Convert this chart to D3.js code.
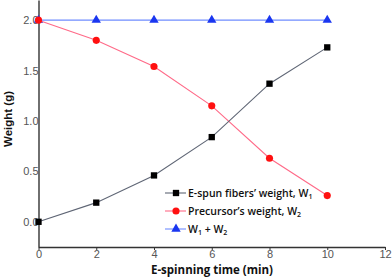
<!DOCTYPE html>
<html>
<head>
<meta charset="utf-8">
<script src="https://cdn.jsdelivr.net/npm/d3@7"></script>
<style>
  body { margin: 0; background: #fff; }
</style>
</head>
<body>
<div id="chart"></div>
<script>
const times = [0, 2, 4, 6, 8, 10]
const fiberWeight = [0.0, 0.19, 0.46, 0.84, 1.37, 1.73]
const precursorWeight = [2.0, 1.80, 1.54, 1.15, 0.63, 0.26]
const totalWeight = [2.0, 2.0, 2.0, 2.0, 2.0, 2.0]
const xTicks = [0, 2, 4, 6, 8, 10, 12]
const yTicks = [0.0, 0.5, 1.0, 1.5, 2.0]

const width = 392, height = 279
const padding = { top: 0, left: 38.5, right: 7, bottom: 32 }

const xScale = d3.scaleLinear().domain([0, 12]).range([padding.left, width - padding.right])
const yScale = d3.scaleLinear().domain([-0.25, 2.2]).range([height - padding.bottom, padding.top])

const svg = d3.select('#chart').append('svg')
              .attr('width', width)
              .attr('height', height)

// x axis
const xAxis = svg.append('g')
                 .attr('transform', `translate(0, ${yScale(-0.25)})`)
                 .call(d3.axisBottom(xScale).tickValues(xTicks).tickSize(3).tickSizeOuter(0).tickFormat(d3.format('d')))
xAxis.select('.domain').attr('stroke', '#333').attr('stroke-width', 1.4)
xAxis.selectAll('.tick line').attr('stroke', '#333')
xAxis.selectAll('.tick text')
     .attr('y', 3).attr('dy', '0.71em')
     .style('font-family', 'Liberation Sans, Arial, sans-serif')
     .style('font-size', '11px')
     .style('fill', '#555')

// y axis
const yAxis = svg.append('g')
                 .attr('transform', `translate(${padding.left}, 0)`)
                 .call(d3.axisLeft(yScale).tickValues(yTicks).tickSize(0).tickSizeOuter(0).tickFormat(d3.format('.1f')))
yAxis.select('.domain').attr('stroke', '#333').attr('stroke-width', 1.4)
yAxis.selectAll('.tick text')
     .attr('x', 0)
     .style('font-family', 'Liberation Sans, Arial, sans-serif')
     .style('font-size', '11px')
     .style('fill', '#555')

// axis titles
svg.append('text')
   .text('E-spinning time (min)')
   .attr('text-anchor', 'middle')
   .attr('x', 212)
   .attr('y', 274)
   .style('font-family', 'Open Sans, sans-serif')
   .style('font-size', '11.5px')
   .style('font-weight', '700')
   .style('fill', '#111')

svg.append('text')
   .text('Weight (g)')
   .attr('text-anchor', 'middle')
   .attr('transform', `translate(12, 119) rotate(-90)`)
   .style('font-family', 'Liberation Sans, Arial, sans-serif')
   .style('font-size', '11.5px')
   .style('font-weight', '700')
   .style('fill', '#111')

const series = [
    { values: fiberWeight, line: '#5f6675', fill: '#000', shape: d3.symbolSquare, size: 40 },
    { values: precursorWeight, line: '#ff6a88', fill: '#ff1010', shape: d3.symbolCircle, size: 40 },
    { values: totalWeight, line: '#6f8cff', fill: '#1a36f0', shape: d3.symbolTriangle, size: 38 }
]

const line = d3.line()
               .x((d, i) => xScale(times[i]))
               .y(d => yScale(d))

// draw in reverse so the black series sits on top
series.slice().reverse().forEach(s => {
    svg.append('path')
       .datum(s.values)
       .attr('d', line)
       .style('fill', 'none')
       .style('stroke', s.line)
       .style('stroke-width', 1.1)

    svg.append('g').selectAll('path')
       .data(s.values)
       .join('path')
       .attr('transform', (d, i) => `translate(${xScale(times[i])}, ${yScale(d)})`)
       .attr('d', d3.symbol().type(s.shape).size(s.size))
       .style('fill', s.fill)
})

// legend: even parts are normal text, odd parts are subscripts
const legendLabels = [
    ['E-spun fibers\u2019 weight, W', '1'],
    ['Precursor\u2019s weight, W', '2'],
    ['W', '1', ' + W', '2']
]
const legendY = [193, 211, 229]

legendLabels.forEach((label, i) => {
    const s = series[i]
    const g = svg.append('g').attr('transform', `translate(0, ${legendY[i]})`)
    g.append('line')
     .attr('x1', 165).attr('x2', 186)
     .style('stroke', s.line)
     .style('stroke-width', 1.1)
    g.append('path')
     .attr('transform', 'translate(176, 0)')
     .attr('d', d3.symbol().type(s.shape).size(s.size))
     .style('fill', s.fill)
    const t = g.append('text')
               .attr('x', 188)
               .attr('y', 4)
               .style('font-family', 'Open Sans, sans-serif')
               .style('font-size', '10.5px')
               .style('font-weight', '600')
               .style('fill', '#111')
    label.forEach((part, j) => {
        const sub = j % 2 === 1
        const ts = t.append('tspan').text(part)
        if (sub) ts.style('font-size', '7px').attr('dy', 2)
        else if (j > 0) ts.attr('dy', -2)
    })
})
</script>
</body>
</html>
